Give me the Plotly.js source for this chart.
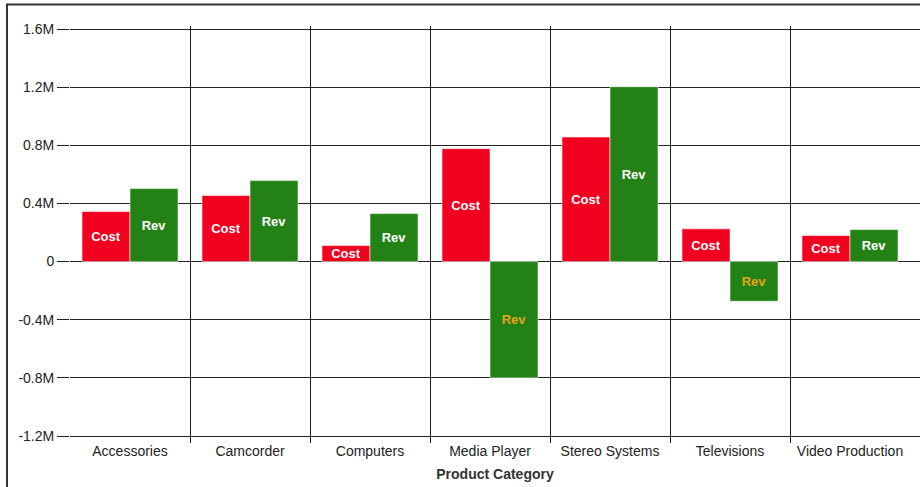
<!DOCTYPE html>
<html>
<head>
<meta charset="utf-8">
<script src="https://cdn.plot.ly/plotly-3.0.1.min.js"></script>
<style>
  html, body { margin: 0; padding: 0; background: #fff; }
  #chart { width: 920px; height: 487px; }
</style>
</head>
<body>
<div id="chart"></div>
<script>
const categories = ["Accessories", "Camcorder", "Computers", "Media Player", "Stereo Systems", "Televisions", "Video Production"];
const costValues = [344000, 454000, 110000, 777000, 857000, 225000, 179000];
const revValues = [502000, 557000, 330000, -800000, 1203000, -273000, 220000];
const yTickVals = [-1200000, -800000, -400000, 0, 400000, 800000, 1200000, 1600000];
const yTickText = ["-1.2M", "-0.8M", "-0.4M", "0", "0.4M", "0.8M", "1.2M", "1.6M"];

const FONT = "Arial, 'Liberation Sans', sans-serif";
const PX = 400000 / 58.15; // value per pixel on the y axis
const X_RANGE = [-0.5, 6.5833];
// separators between neighbouring categories
const categoryBoundaries = categories.slice(1).map((_, i) => i + 0.5);

const costTrace = {
  type: "bar",
  name: "Cost",
  x: categories,
  y: costValues,
  text: costValues.map(() => "Cost"),
  textposition: "inside",
  insidetextanchor: "middle",
  constraintext: "none",
  cliponaxis: false,
  texttemplate: "%{text}",
  textfont: { family: FONT, size: 13, color: "#ffffff", weight: "bold" },
  insidetextfont: { family: FONT, size: 13, color: "#ffffff", weight: "bold" },
  marker: { color: "#f2001f", line: { color: "rgba(255,255,255,0.55)", width: 1 } },
  hoverinfo: "x+y"
};

const revTrace = {
  type: "bar",
  name: "Rev",
  x: categories,
  y: revValues,
  text: revValues.map(() => "Rev"),
  textposition: "inside",
  insidetextanchor: "middle",
  constraintext: "none",
  cliponaxis: false,
  texttemplate: "%{text}",
  textfont: { family: FONT, size: 13, color: revValues.map(v => v < 0 ? "#e8a317" : "#ffffff"), weight: "bold" },
  insidetextfont: { family: FONT, size: 13, color: revValues.map(v => v < 0 ? "#e8a317" : "#ffffff"), weight: "bold" },
  marker: { color: "#238216", line: { color: "rgba(255,255,255,0.55)", width: 1 } },
  hoverinfo: "x+y"
};

// empty helper trace so the separator axis (x2) gets its own subplot
const separatorAxisTrace = {
  type: "scatter",
  mode: "markers",
  x: [],
  y: [],
  xaxis: "x2",
  yaxis: "y",
  showlegend: false,
  hoverinfo: "skip"
};

const layout = {
  width: 920,
  height: 487,
  margin: { l: 70, r: 0, t: 26, b: 44, pad: 0 },
  paper_bgcolor: "#ffffff",
  plot_bgcolor: "#ffffff",
  showlegend: false,
  barmode: "group",
  bargap: 0.2,
  bargroupgap: 0,
  font: { family: FONT, size: 14, color: "#222" },
  xaxis: {
    type: "category",
    range: X_RANGE,
    ticks: "",
    showgrid: false,
    showline: false,
    zeroline: false,
    ticklabelstandoff: -2,
    tickfont: { family: FONT, size: 14, color: "#222" },
    title: { text: "Product Category", font: { family: FONT, size: 14, color: "#333", weight: "bold" }, standoff: 11 },
    fixedrange: true
  },
  xaxis2: {
    visible: true,
    type: "linear",
    overlaying: "x",
    anchor: "y",
    side: "bottom",
    range: X_RANGE,
    autorange: false,
    tickmode: "array",
    tickvals: categoryBoundaries,
    showticklabels: false,
    ticks: "",
    showgrid: true,
    gridcolor: "#222",
    gridwidth: 1,
    zeroline: false,
    showline: false,
    fixedrange: true
  },
  yaxis: {
    range: [-1200000 - 7 * PX, 1600000 + 3 * PX],
    tickmode: "array",
    tickvals: yTickVals,
    ticktext: yTickText,
    ticks: "outside",
    ticklen: 12,
    tickcolor: "#222",
    tickwidth: 1,
    showgrid: true,
    gridcolor: "#222",
    gridwidth: 1,
    zeroline: true,
    zerolinecolor: "#222",
    zerolinewidth: 1,
    showline: false,
    tickfont: { family: FONT, size: 14, color: "#222" },
    fixedrange: true
  },
  shapes: [
    {
      type: "rect",
      xref: "paper", yref: "paper",
      x0: -63 / 850, x1: 1.02,
      y0: -0.15, y1: (443 - 4.5) / 417,
      line: { color: "#333", width: 2 },
      fillcolor: "rgba(0,0,0,0)",
      layer: "above"
    }
  ]
};

Plotly.newPlot("chart", [costTrace, revTrace, separatorAxisTrace], layout, { displayModeBar: false, staticPlot: true });
</script>
</body>
</html>
